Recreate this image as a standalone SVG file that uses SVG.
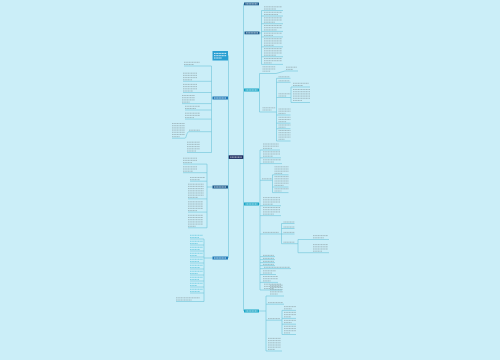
<svg xmlns="http://www.w3.org/2000/svg" width="500" height="360" viewBox="0 0 500 360">
<style>
.c{fill:none;stroke:#6cc3d8;stroke-width:0.6}
.t{fill:none;stroke:#98adb4;stroke-width:0.8;stroke-dasharray:1.2 0.4}
.t2{fill:none;stroke:#6ccae0;stroke-width:0.8;stroke-dasharray:1.2 0.4}
.w{fill:none;stroke:#ffffff;stroke-width:0.8;stroke-dasharray:1.2 0.35}
.dk{fill:#1d5a8c}.bl{fill:#1f78b6}.tl{fill:#17a5c6}
</style>
<rect width="500" height="360" fill="#cbeef8"/>
<g id="connectors">
<path class="c" d="M228.5 55.5V258M243.5 3.8V311"/>
<path class="c" d="M211.5 66V152.5M211.5 98h1M184 66h27.5M183 81.3h28.5M183 92.5h28.5M182 103.6h29.5M185 110h26.5M185 119.1h26.5M189 131.7h22.5M172 138.2h13C186.5 138.2 186.5 131.7 189 131.7M187 152.5h24.5"/>
<path class="c" d="M207 164.1V227.8M207 187h5.5M183 164.1h24M183 172.7h24M190 181.2h17M188 198.9h19M188 212.1h19M188 227.8h19"/>
<path class="c" d="M204 239V301.5M204 258h8.5M190 239h14M190 245h14M190 251h14M190 257h14M190 263h14M190 269h14M190 275h14M190 281h14M190 287h14M190 293h14M176 301.5h28"/>
<path class="c" d="M261.5 10.5V64.4M259.5 33h2M261.5 10.5h21.5M261.5 16h21.5M261.5 23.7h21.5M261.5 31.4h21.5M261.5 36.9h21.5M261.5 46.8h21.5M261.5 56.7h21.5M261.5 64.4h21.5"/>
<path class="c" d="M259.5 73.5V112M259 90h0.5M259.5 73.5h16.5L285 71h13M259.5 112h17M276.5 78.3V141M276.5 78.3h14M276.5 82.3h14M276.5 97.5h14.5M276.5 115h14M276.5 123.2h14M276.5 128.7h14M276.5 141h14M291 87V102.5M291 87h19M291 102.5h19"/>
<path class="c" d="M260 150V290M259 204h1M260 150h20M260 157.8h21M260 163.6h22M260 180.3h12.5M272.5 174.8V192.6M272.5 174.8h16M272.5 187h16M272.5 192.6h16M260 205.7h21M260 215.6h21M260 234h21.5M281.5 223.5V243.7M281.5 223.5h13M281.5 228.5h13M281.5 234h13M281.5 243.7h16.5M298 239.5V252.7M298 239.5h31M298 252.7h31M260 256.6h15M260 259.6h15M260 262.6h15M260 265.6h15M260 268.6h31M260 274.5h16M260 282.4h18M260 290h22"/>
<path class="c" d="M266 296V351M259 311h7M266 296h18M266 304.2h18M266 320.2h16M282 310.4V334.5M282 310.4h14M282 318.4h14M282 324.2h14M282 334.5h14M266 351h16"/>
</g>
<g id="title"><rect x="212.5" y="51" width="15.5" height="9.5" fill="#2a9fd2"/><path class="w" d="M214 53.4h12.5m-12.5 2.3h12.5m-12.5 2.3h8"/></g>
<g id="root"><rect x="228.7" y="155.3" width="14.6" height="3.6" fill="#1b2a5e"/><path class="w" d="M230.2 157.1h11.6"/></g>
<g id="b1"><rect x="212.5" y="96.5" width="15.5" height="3" class="bl"/><path class="w" d="M214 98h12"/>
<path class="t" d="M184 62.3h16m-16 2.2h10M183 73.2h14m-14 2.2h14m-14 2.2h14m-14 2.2h9M183 84.4h14m-14 2.2h14m-14 2.2h14m-14 2.2h10M182 95.5h13m-13 2.2h13m-13 2.2h13m-13 2.2h8M185 106.3h15m-15 2.2h11M185 113.2h15m-15 2.2h15m-15 2.2h9M189 130.2h11M172 123.5h13m-13 2.2h13m-13 2.2h13m-13 2.2h13m-13 2.2h13m-13 2.2h13m-13 2.2h8M187 142.2h13m-13 2.2h13m-13 2.2h13m-13 2.2h13m-13 2.2h9"/></g>
<g id="b2"><rect x="212.5" y="185.5" width="15.5" height="3" class="dk"/><path class="w" d="M214 187h12"/>
<path class="t" d="M183 158.2h14m-14 2.2h14m-14 2.2h9M183 166.8h14m-14 2.2h14m-14 2.2h10M190 177.5h15m-15 2.2h10M188 184.2h16m-16 2.2h16m-16 2.2h16m-16 2.2h16m-16 2.2h16m-16 2.2h16m-16 2.2h10M188 201.8h15m-15 2.2h15m-15 2.2h15m-15 2.2h15m-15 2.2h9M188 215.3h15m-15 2.2h15m-15 2.2h15m-15 2.2h15m-15 2.2h15m-15 2.2h8"/></g>
<g id="b3"><rect x="212.5" y="256.5" width="15.5" height="3" class="bl"/><path class="w" d="M214 258h12"/>
<path class="t2" d="M190 235.3h13m-13 2.2h9M190 241.3h13m-13 2.2h8M190 247.3h13m-13 2.2h10M190 253.3h13m-13 2.2h7M190 259.3h13m-13 2.2h9M190 265.3h13m-13 2.2h10M190 271.3h13m-13 2.2h8M190 277.3h13m-13 2.2h9M190 283.3h13m-13 2.2h7M190 289.3h13m-13 2.2h10"/>
<path class="t" d="M176 297.8h24m-24 2.2h16"/></g>
<g id="ra"><rect x="244" y="2.5" width="15" height="2.8" class="dk"/><path class="w" d="M245.5 3.9h12"/></g>
<g id="rb"><rect x="244.5" y="31.5" width="15" height="2.8" class="dk"/><path class="w" d="M246 32.9h12"/>
<path class="t" d="M264 6.8h18m-18 2.2h12M264 12.3h18m-18 2.2h14M264 17.8h18m-18 2.2h18m-18 2.2h11M264 25.5h18m-18 2.2h18m-18 2.2h13M264 33.2h18m-18 2.2h9M264 38.7h18m-18 2.2h18m-18 2.2h18m-18 2.2h10M264 48.6h18m-18 2.2h18m-18 2.2h18m-18 2.2h12M264 58.5h18m-18 2.2h18m-18 2.2h8"/></g>
<g id="rc"><rect x="244" y="88.5" width="15" height="3" class="tl"/><path class="w" d="M245.5 90h12"/>
<path class="t" d="M262.5 66.8h13m-13 2.2h13m-13 2.2h8M286 67.2h11m-11 2.2h7M262.5 107.8h13m-13 2.2h9M278.5 76.8h11M278.5 80.8h11M278.5 93.8h12m-12 2.2h8M278.5 109h12m-12 2.2h12m-12 2.2h7M278.5 117.3h12m-12 2.2h12m-12 2.2h8M278.5 125h12m-12 2.2h7M278.5 130.5h12m-12 2.2h12m-12 2.2h12m-12 2.2h12m-12 2.2h6M293 83.3h16m-16 2.2h10M293 89.5h17m-17 2.2h17m-17 2.2h17m-17 2.2h17m-17 2.2h17m-17 2.2h9"/></g>
<g id="rd"><rect x="244" y="202.5" width="15" height="3" class="tl"/><path class="w" d="M245.5 204h12"/>
<path class="t" d="M263 144h16m-16 2.2h16m-16 2.2h9M263 151.8h17m-17 2.2h17m-17 2.2h10M263 159.8h18m-18 2.2h11M262 178.8h10M274.5 166.8h14m-14 2.2h14m-14 2.2h14m-14 2.2h8M274.5 176.6h14m-14 2.2h14m-14 2.2h14m-14 2.2h14m-14 2.2h9M274.5 188.8h14m-14 2.2h7M263 197.6h17m-17 2.2h17m-17 2.2h17m-17 2.2h10M263 207.5h17m-17 2.2h17m-17 2.2h17m-17 2.2h11M263 232.4h16M283.5 222h11M283.5 227h11M283.5 232.4h11M283.5 242.2h11M313 235.6h15m-15 2.2h11M313 244.6h15m-15 2.2h15m-15 2.2h15m-15 2.2h9M263 255.4h11M263 258.4h11M263 261.4h11M263 264.4h11M264 267.3h26M263 270.8h13m-13 2.2h9M263 276.5h15m-15 2.2h15m-15 2.2h8M264 284.2h17m-17 2.2h17m-17 2.2h10"/></g>
<g id="re"><rect x="244" y="309.5" width="15" height="3" class="tl"/><path class="w" d="M245.5 311h12"/>
<path class="t" d="M270 285.2h13m-13 2.2h13m-13 2.2h13m-13 2.2h13m-13 2.2h8M268 302.6h15M268 318.6h12M284 306.6h12m-12 2.2h8M284 312.4h12m-12 2.2h12m-12 2.2h7M284 320.4h12m-12 2.2h8M284 326.3h12m-12 2.2h12m-12 2.2h12m-12 2.2h6M268 338.4h13m-13 2.2h13m-13 2.2h13m-13 2.2h13m-13 2.2h13m-13 2.2h7"/></g>
</svg>
